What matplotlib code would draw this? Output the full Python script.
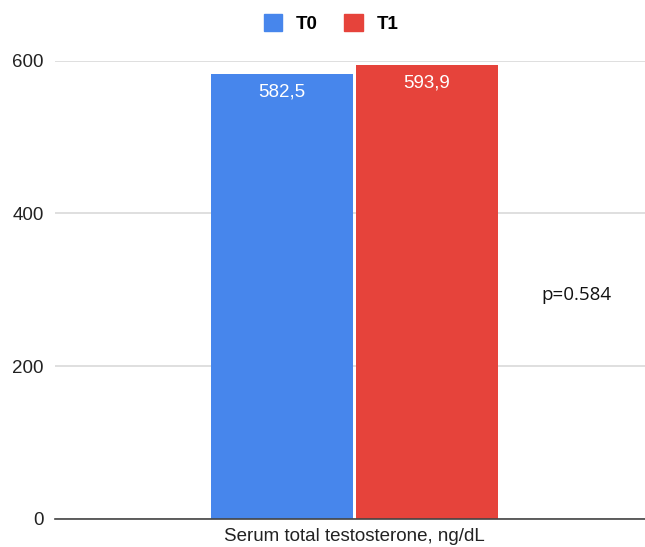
import numpy as np
from matplotlib import pyplot as plt
from matplotlib.patches import Patch

groups = ["T0", "T1"]
values = [582.5, 593.9]
value_labels = ["582,5", "593,9"]
colors = ["#4786ec", "#e6433b"]
category = "Serum total testosterone, ng/dL"
p_text = "p=0.584"
yticks = [0, 200, 400, 600]

plt.rcParams["font.family"] = ["Liberation Sans", "DejaVu Sans"]

fig = plt.figure(figsize=(6.45, 5.47), dpi=100)
ax = fig.add_axes([0.0853, 0.0512, 0.9147, 0.8378])

offsets = [-0.245, 0.245]
width = 0.48
for off, v, lab, c in zip(offsets, values, value_labels, colors):
    ax.bar(off, v, width=width, color=c, zorder=3)
    ax.text(off, v - 23, lab, ha="center", va="center", color="white", fontsize=13.5, zorder=4)

ax.set_xlim(-1.015, 0.985)
ax.set_ylim(0, 600)
ax.set_yticks(yticks)
ax.set_xticks([0])
ax.set_xticklabels([category], fontsize=13.5)
ax.tick_params(axis="y", length=0, pad=8, labelsize=13.5, colors="#222222")
ax.tick_params(axis="x", length=0, pad=6.5, colors="#222222")
ax.grid(axis="y", color="#d9d9d9", linewidth=1.2, zorder=0)
for s in ["top", "right", "left"]:
    ax.spines[s].set_visible(False)
ax.spines["bottom"].set_color("#444444")
ax.spines["bottom"].set_linewidth(1.2)
ax.spines["bottom"].set_zorder(5)

ax.text(0.751, 293, p_text, ha="center", va="center", fontsize=13.5,
        family=["Open Sans", "DejaVu Sans"], color="#111111")

handles = [Patch(color=c, label=g) for g, c in zip(groups, colors)]
fig.legend(handles=handles, loc="center", bbox_to_anchor=(0.513, 0.957), ncol=2,
           frameon=False, handlelength=1.0, handleheight=1.0, columnspacing=1.44,
           handletextpad=0.7, borderaxespad=0, borderpad=0,
           prop={"weight": "bold", "size": 13.5})

fig.savefig("out.png", dpi=100)
